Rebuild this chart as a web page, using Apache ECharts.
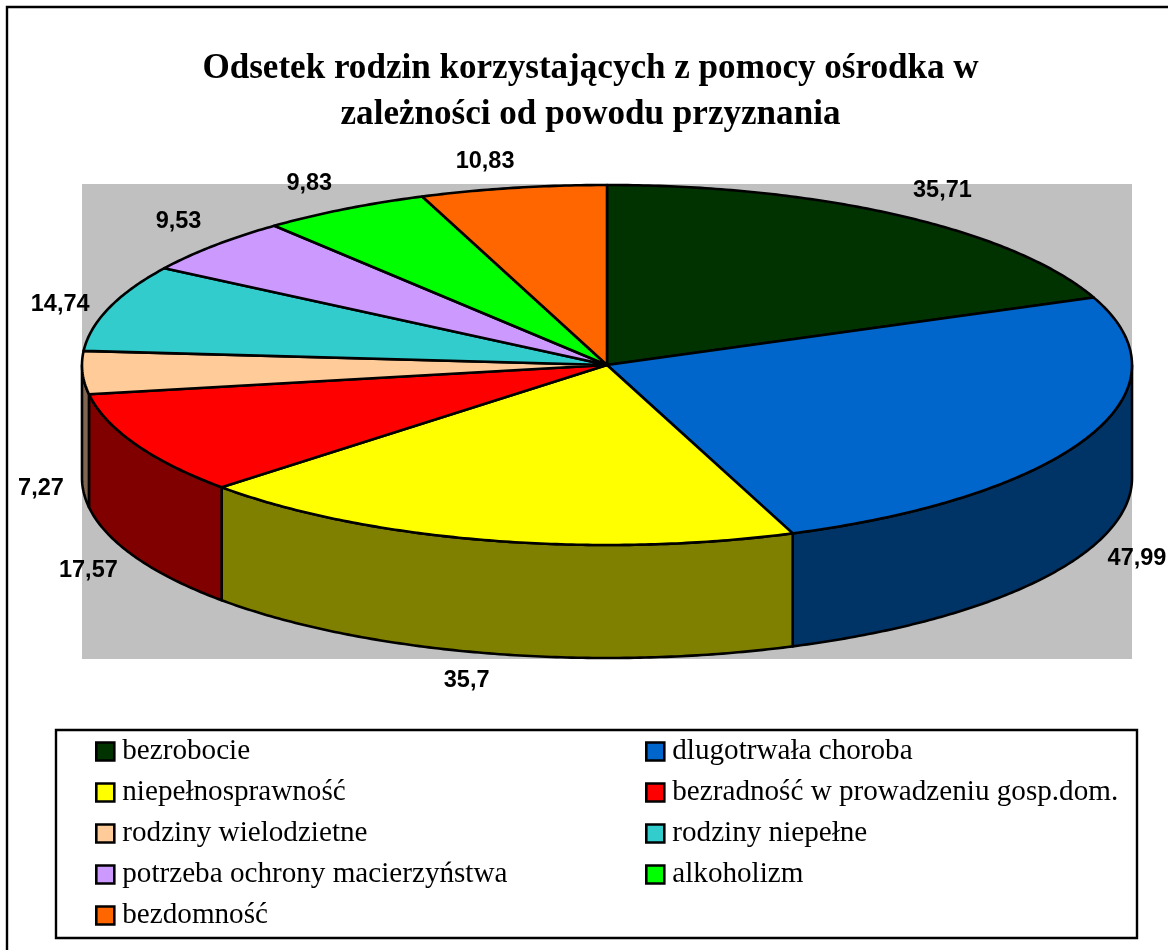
<!DOCTYPE html>
<html><head><meta charset="utf-8">
<style>html,body{margin:0;padding:0;background:#fff}#c{width:1168px;height:950px}</style>
<script src="https://cdn.jsdelivr.net/npm/echarts@6/dist/echarts.min.js"></script>
</head><body><div id="c"></div>
<script>
const titleLines = ['Odsetek rodzin korzystających z pomocy ośrodka w', 'zależności od powodu przyznania'];
const categories = ['bezrobocie','dlugotrwała choroba','niepełnosprawność','bezradność w prowadzeniu gosp.dom.','rodziny wielodzietne','rodziny niepełne','potrzeba ochrony macierzyństwa','alkoholizm','bezdomność'];
const values = [35.71,47.99,35.7,17.57,7.27,14.74,9.53,9.83,10.83];
const topColors = ['#003300','#0066CC','#FFFF00','#FF0000','#FFCC99','#33CCCC','#CC99FF','#00FF00','#FF6600'];
const wallColors = ['#001900','#003366','#808000','#800000','#806650','#196666','#664C80','#008000','#803300'];
const labelOffsets = [[42,-25],[49,121.5],[-20,140],[-47,126.5],[-41.5,115.5],[-49,-3],[-36,-23.5],[-35.5,-26],[-28,-26]];

const cx=607, cy=365, rx=525, ry=180, depth=113;
const total = values.reduce((a,b)=>a+b,0);
const startAngles = []; let acc=0;
values.forEach(v=>{startAngles.push(acc/total*2*Math.PI); acc+=v;});
const pt=(a,dy=0)=>[cx+rx*Math.sin(a), cy-ry*Math.cos(a)+dy];
const arc=(a0,a1,dy=0)=>{const n=Math.max(2,Math.ceil((a1-a0)/0.01));const out=[];for(let i=0;i<=n;i++)out.push(pt(a0+(a1-a0)*i/n,dy));return out;};
const line={stroke:'#000',lineWidth:2.6,lineJoin:'round'};

function renderSlice(i){
  return function(){
    const a0=startAngles[i], a1=a0+values[i]/total*2*Math.PI;
    const children=[];
    const w0=Math.max(a0,Math.PI/2), w1=Math.min(a1,1.5*Math.PI);
    if(w1>w0){
      const pts=arc(w0,w1).concat(arc(w0,w1,depth).reverse());
      children.push({type:'polygon',shape:{points:pts},style:Object.assign({fill:wallColors[i]},line)});
    }
    children.push({type:'polygon',shape:{points:[[cx,cy]].concat(arc(a0,a1))},style:Object.assign({fill:topColors[i]},line)});
    const m=(a0+a1)/2, p=pt(m);
    children.push({type:'text',z2:100,style:{text:String(values[i]).replace('.',','),x:p[0]+labelOffsets[i][0],y:p[1]+labelOffsets[i][1],align:'center',verticalAlign:'middle',fill:'#000',font:'bold 23.5px "Liberation Sans"'}});
    return {type:'group',children};
  };
}
const legendCommon={orient:'vertical',icon:'rect',itemWidth:18,itemHeight:18,itemGap:9,height:300,selectedMode:false,
  itemStyle:{borderColor:'#000',borderWidth:2.6},
  textStyle:{fontFamily:'Liberation Serif',fontSize:29.15,height:29,lineHeight:29,color:'#000',padding:[3,0,0,3]}};
const chart=echarts.init(document.getElementById('c'),null,{renderer:'canvas'});
chart.setOption({
  animation:false,
  backgroundColor:'#fff',
  title:{text:titleLines.join('\n'),left:585.5,top:41,textAlign:'center',
    textStyle:{fontFamily:'Liberation Serif',fontWeight:'bold',fontSize:35.1,lineHeight:46,color:'#000'}},
  legend:[
    Object.assign({},legendCommon,{left:90,top:730.5,data:categories.filter((_,i)=>i%2===0).map(n=>({name:n,itemStyle:{color:topColors[categories.indexOf(n)]}}))}),
    Object.assign({},legendCommon,{left:640,top:730.5,data:categories.filter((_,i)=>i%2===1).map(n=>({name:n,itemStyle:{color:topColors[categories.indexOf(n)]}}))})
  ],
  graphic:[
    {type:'rect',z:-10,shape:{x:7,y:7,width:1400,height:1200},style:{fill:'#fff',stroke:'#000',lineWidth:2.4}},
    {type:'rect',z:-9,shape:{x:82,y:184,width:1050,height:475},style:{fill:'#C0C0C0'}},
    {type:'rect',z:-9,shape:{x:56,y:730,width:1081,height:208},style:{fill:'#fff',stroke:'#000',lineWidth:2.4}}
  ],
  series:categories.map((name,i)=>({type:'custom',name,coordinateSystem:'none',clip:false,itemStyle:{color:topColors[i]},data:[[values[i]]],renderItem:renderSlice(i)}))
});
</script></body></html>
